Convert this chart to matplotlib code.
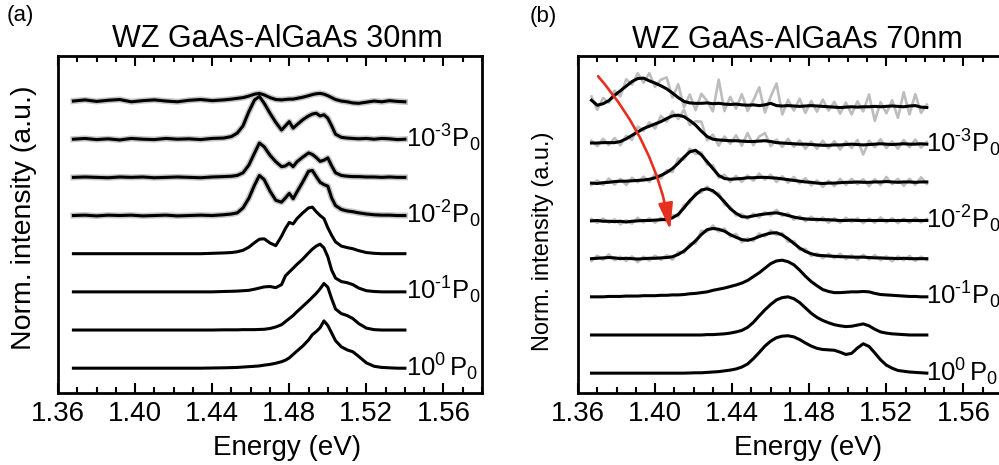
import numpy as np
import matplotlib
matplotlib.use('Agg')
import matplotlib.pyplot as plt
from matplotlib.patches import FancyArrowPatch
from matplotlib.ticker import MultipleLocator

plt.rcParams['font.family'] = ['Liberation Sans', 'DejaVu Sans']
plt.rcParams['mathtext.fontset'] = 'custom'
plt.rcParams['mathtext.rm'] = 'Liberation Sans'
plt.rcParams['mathtext.it'] = 'Liberation Sans:italic'
plt.rcParams['mathtext.bf'] = 'Liberation Sans:bold'

# ---------------- data: panel (a), 30 nm ----------------
energy_a = [1.368, 1.374, 1.380, 1.386, 1.392, 1.398, 1.404, 1.410, 1.416, 1.422,
            1.428, 1.434, 1.440, 1.446,
            1.450, 1.453, 1.456, 1.459, 1.462, 1.4645, 1.467, 1.470, 1.473, 1.476,
            1.478, 1.480, 1.482, 1.484, 1.487, 1.490, 1.492, 1.494, 1.496, 1.498,
            1.500, 1.502, 1.504, 1.507, 1.510, 1.513, 1.516, 1.520,
            1.524, 1.528, 1.532, 1.536, 1.540]

# spectra from top (lowest power) to bottom (highest power)
a_1 = [0.0, 0.03, -0.01, 0.02, 0.04, -0.02, 0.01, 0.03, 0.0, -0.02, 0.02, 0.04, 0.01, 0.03,
       0.05, 0.07, 0.09, 0.13, 0.18, 0.20, 0.16, 0.09, 0.04, 0.03,
       0.04, 0.05, 0.05, 0.07, 0.10, 0.14, 0.17, 0.19, 0.20, 0.18,
       0.14, 0.09, 0.04, 0.0, -0.02, -0.05, -0.06, -0.03,
       0.0, -0.02, 0.01, -0.01, -0.02]
a_2 = [0.0, 0.02, -0.01, 0.01, -0.02, 0.02, 0.0, -0.01, 0.02, 0.0, 0.01, -0.01, 0.02, 0.03,
       0.07, 0.16, 0.35, 0.72, 1.03, 1.12, 0.94, 0.68, 0.44, 0.24,
       0.35, 0.46, 0.29, 0.38, 0.51, 0.61, 0.66, 0.68, 0.61, 0.64,
       0.55, 0.35, 0.13, 0.05, 0.03, 0.02, 0.01, 0.02,
       0.0, 0.02, 0.01, -0.01, 0.0]
a_3 = [0.0, 0.01, 0.0, -0.01, 0.01, 0.0, 0.01, -0.01, 0.0, 0.01, 0.0, -0.01, 0.01, 0.02,
       0.03, 0.05, 0.12, 0.32, 0.64, 0.90, 0.80, 0.58, 0.41, 0.28,
       0.30, 0.37, 0.28, 0.41, 0.53, 0.64, 0.60, 0.52, 0.42, 0.45,
       0.51, 0.30, 0.12, 0.05, 0.03, 0.02, 0.02, 0.01,
       0.01, 0.0, 0.01, 0.0, 0.0]
a_4 = [0.0, 0.01, -0.01, 0.01, 0.0, 0.01, -0.01, 0.0, 0.01, -0.01, 0.0, 0.01, 0.0, 0.02,
       0.04, 0.07, 0.20, 0.45, 0.80, 1.05, 0.94, 0.64, 0.40, 0.35,
       0.46, 0.58, 0.44, 0.62, 0.88, 1.16, 1.18, 1.02, 0.87, 0.81,
       0.77, 0.46, 0.26, 0.16, 0.12, 0.10, 0.07, 0.04,
       0.02, 0.01, 0.01, 0.0, 0.0]
a_5 = [0.0, 0.0, 0.0, 0.0, 0.0, 0.0, 0.0, 0.0, 0.0, 0.0, 0.0, 0.0, 0.01, 0.02,
       0.03, 0.05, 0.09, 0.17, 0.29, 0.38, 0.39, 0.28, 0.21, 0.46,
       0.66, 0.82, 0.78, 0.92, 1.07, 1.20, 1.22, 1.10, 1.00, 0.92,
       0.68, 0.48, 0.31, 0.20, 0.16, 0.13, 0.08, 0.03,
       0.01, 0.0, 0.0, 0.0, 0.0]
a_6 = [0.0, 0.0, 0.0, 0.0, 0.0, 0.0, 0.0, 0.0, 0.0, 0.0, 0.0, 0.0, 0.0, 0.01,
       0.015, 0.02, 0.03, 0.04, 0.07, 0.10, 0.13, 0.14, 0.11, 0.19,
       0.42, 0.52, 0.62, 0.72, 0.86, 1.02, 1.12, 1.20, 1.25, 1.15,
       0.92, 0.57, 0.36, 0.27, 0.24, 0.19, 0.10, 0.03,
       0.01, 0.0, 0.0, 0.0, 0.0]
a_7 = [0.0, 0.0, 0.0, 0.0, 0.0, 0.0, 0.0, 0.0, 0.0, 0.0, 0.0, 0.0, 0.0, 0.005,
       0.005, 0.005, 0.01, 0.01, 0.01, 0.015, 0.02, 0.04, 0.08, 0.14,
       0.22, 0.30, 0.38, 0.48, 0.62, 0.76, 0.86, 0.96, 1.08, 1.22,
       1.12, 0.82, 0.55, 0.43, 0.38, 0.30, 0.17, 0.05,
       0.01, 0.0, 0.0, 0.0, 0.0]
a_8 = [0.0, 0.0, 0.0, 0.0, 0.0, 0.0, 0.0, 0.0, 0.0, 0.0, 0.0, 0.0, 0.005, 0.01,
       0.015, 0.02, 0.03, 0.04, 0.05, 0.06, 0.08, 0.10, 0.13, 0.17,
       0.21, 0.27, 0.36, 0.45, 0.58, 0.74, 0.88, 0.96, 1.06, 1.24,
       1.12, 0.92, 0.72, 0.56, 0.48, 0.43, 0.31, 0.14,
       0.05, 0.02, 0.01, 0.0, 0.0]

# ---------------- data: panel (b), 70 nm ----------------
energy_b = [1.367, 1.370, 1.373, 1.376, 1.379, 1.382, 1.385, 1.388, 1.391, 1.394,
            1.397, 1.400, 1.403, 1.406, 1.409, 1.412, 1.415, 1.418, 1.421, 1.424,
            1.427, 1.430, 1.433, 1.436, 1.439, 1.442, 1.445, 1.448, 1.451, 1.454,
            1.457, 1.460, 1.463, 1.466, 1.469, 1.472, 1.475, 1.478, 1.481, 1.484,
            1.487, 1.490, 1.493, 1.496, 1.499, 1.502, 1.505, 1.508, 1.511, 1.514,
            1.517, 1.520, 1.523, 1.526, 1.529, 1.532, 1.535, 1.538, 1.541]

b_1 = [0.15, 0.02, 0.06, 0.14, 0.28, 0.40, 0.52, 0.64, 0.72, 0.73,
       0.66, 0.60, 0.53, 0.45, 0.34, 0.22, 0.12, 0.08, 0.07, 0.07,
       0.08, 0.06, 0.07, 0.05, 0.04, 0.05, 0.03, 0.02, 0.03, 0.01,
       0.03, 0.07, 0.01, 0.0, 0.01, 0.0, -0.01, 0.0, 0.01, 0.0,
       -0.01, -0.02, -0.03, -0.04, -0.03, -0.02, -0.03, -0.02, -0.02, -0.01,
       -0.02, -0.01, 0.0, -0.01, -0.02, 0.0, 0.01, -0.03, -0.04]
b_2 = [0.03, 0.03, 0.04, 0.04, 0.04, 0.07, 0.14, 0.23, 0.32, 0.41,
       0.47, 0.53, 0.59, 0.67, 0.74, 0.76, 0.72, 0.62, 0.50, 0.34,
       0.20, 0.13, 0.11, 0.10, 0.09, 0.09, 0.08, 0.07, 0.07, 0.08,
       0.09, 0.07, 0.04, 0.03, 0.02, 0.01, 0.0, 0.0, -0.01, -0.02,
       -0.03, -0.03, -0.02, -0.02, -0.01, 0.0, -0.01, -0.02, -0.01, 0.0,
       0.01, 0.0, -0.01, 0.0, 0.01, 0.0, 0.0, 0.01, 0.0]
b_3 = [-0.02, -0.03, -0.01, 0.0, 0.02, 0.03, 0.03, 0.04, 0.05, 0.06,
       0.08, 0.12, 0.18, 0.26, 0.36, 0.50, 0.66, 0.80, 0.84, 0.72,
       0.54, 0.36, 0.18, 0.10, 0.08, 0.09, 0.10, 0.12, 0.12, 0.13,
       0.13, 0.12, 0.11, 0.09, 0.07, 0.05, 0.03, 0.01, 0.0, -0.02,
       -0.03, -0.02, -0.02, -0.01, 0.0, 0.0, 0.01, 0.0, 0.0, 0.01,
       0.01, 0.02, 0.01, 0.0, 0.01, 0.01, 0.0, 0.01, 0.01]
b_4 = [-0.01, 0.0, -0.02, -0.02, -0.03, -0.02, -0.04, -0.02, -0.01, 0.0,
       0.0, 0.01, 0.02, 0.03, 0.07, 0.16, 0.33, 0.52, 0.67, 0.80,
       0.83, 0.78, 0.65, 0.49, 0.31, 0.19, 0.10, 0.09, 0.12, 0.15,
       0.17, 0.19, 0.20, 0.17, 0.13, 0.09, 0.06, 0.04, 0.03, 0.03,
       0.02, 0.02, 0.01, 0.0, 0.0, 0.01, 0.0, 0.0, 0.0, 0.0,
       0.0, 0.0, 0.0, 0.0, 0.0, 0.0, 0.0, 0.0, 0.0]
b_5 = [0.0, 0.01, 0.02, 0.03, 0.02, 0.0, 0.01, 0.0, -0.01, 0.0,
       0.01, 0.01, 0.02, 0.03, 0.05, 0.11, 0.20, 0.33, 0.47, 0.63,
       0.76, 0.79, 0.77, 0.72, 0.63, 0.56, 0.50, 0.48, 0.52, 0.58,
       0.63, 0.67, 0.68, 0.62, 0.52, 0.40, 0.28, 0.19, 0.13, 0.09,
       0.08, 0.07, 0.06, 0.05, 0.05, 0.04, 0.04, 0.04, 0.03, 0.02,
       0.02, 0.01, 0.01, 0.0, 0.01, 0.0, 0.0, 0.0, 0.0]
b_6 = [0.0, 0.0, 0.0, 0.01, 0.01, 0.01, 0.02, 0.02, 0.02, 0.03,
       0.03, 0.03, 0.04, 0.04, 0.05, 0.05, 0.06, 0.08, 0.09, 0.11,
       0.13, 0.17, 0.20, 0.23, 0.27, 0.31, 0.36, 0.43, 0.53, 0.63,
       0.75, 0.87, 0.94, 0.96, 0.92, 0.84, 0.70, 0.54, 0.40, 0.29,
       0.19, 0.14, 0.11, 0.11, 0.12, 0.13, 0.13, 0.14, 0.13, 0.09,
       0.06, 0.05, 0.04, 0.03, 0.02, 0.01, 0.01, 0.0, 0.0]
b_7 = [0.0, 0.0, 0.0, 0.0, 0.0, 0.0, 0.0, 0.0, 0.0, 0.0,
       0.0, 0.0, 0.0, 0.0, 0.0, 0.0, 0.0, 0.0, 0.0, 0.0,
       0.01, 0.01, 0.02, 0.03, 0.05, 0.08, 0.12, 0.20, 0.33, 0.50,
       0.66, 0.80, 0.92, 0.98, 1.00, 0.95, 0.85, 0.71, 0.57, 0.46,
       0.38, 0.32, 0.27, 0.24, 0.22, 0.23, 0.26, 0.29, 0.24, 0.15,
       0.08, 0.05, 0.03, 0.02, 0.01, 0.0, 0.0, 0.0, 0.0]
b_8 = [0.0, 0.0, 0.0, 0.0, 0.0, 0.0, 0.0, 0.0, 0.0, 0.0,
       0.0, 0.0, 0.0, 0.0, 0.0, 0.0, 0.0, 0.005, 0.01, 0.01,
       0.02, 0.03, 0.04, 0.06, 0.08, 0.11, 0.16, 0.24, 0.38, 0.54,
       0.71, 0.84, 0.93, 0.97, 0.98, 0.95, 0.88, 0.79, 0.71, 0.65,
       0.62, 0.61, 0.60, 0.55, 0.49, 0.52, 0.66, 0.77, 0.70, 0.53,
       0.35, 0.21, 0.13, 0.07, 0.05, 0.03, 0.02, 0.01, 0.0]

# raw-minus-smoothed residuals (grey raw spectra) for the noisy panel (b) spectra
b_noise_1 = [0.10, -0.12, 0.15, -0.05, 0.12, -0.15, 0.18, -0.08, 0.14, -0.12,
             0.20, -0.10, 0.16, 0.30, -0.12, 0.35, -0.15, 0.22, -0.18, 0.25,
             0.05, -0.20, 0.62, -0.18, 0.20, -0.12, 0.28, -0.15, 0.12, 0.48,
             -0.20, 0.18, 0.58, -0.22, 0.15, -0.12, 0.20, -0.18, 0.12, -0.15,
             0.18, -0.10, 0.14, -0.16, 0.12, -0.20, 0.15, -0.12, 0.32, -0.38,
             0.12, -0.18, 0.15, -0.30, 0.38, -0.22, 0.30, -0.15, 0.08]
b_noise_2 = [0.06, -0.08, 0.10, -0.06, 0.12, -0.10, 0.08, -0.12, 0.14, -0.06,
             0.10, -0.12, 0.15, -0.08, 0.12, -0.10, 0.18, -0.12, 0.10, 0.25,
             -0.10, 0.12, -0.15, 0.10, -0.08, 0.14, -0.12, 0.22, -0.10, 0.12,
             0.20, -0.12, 0.08, -0.10, 0.12, -0.08, 0.10, -0.12, 0.08, -0.10,
             0.12, -0.08, 0.10, -0.12, 0.08, -0.10, 0.12, -0.25, 0.10, -0.08,
             0.12, -0.10, 0.08, -0.12, 0.10, -0.08, 0.12, -0.10, 0.06]
b_noise_3 = [-0.05, 0.08, -0.06, 0.10, -0.08, 0.06, -0.10, 0.08, -0.05, 0.09,
             -0.07, 0.10, -0.08, 0.06, -0.09, 0.12, -0.06, 0.08, -0.10, 0.07,
             -0.08, 0.09, -0.06, 0.10, -0.07, 0.08, -0.09, 0.06, -0.08, 0.10,
             -0.06, 0.08, -0.10, 0.07, -0.08, 0.09, -0.06, 0.10, -0.08, 0.07,
             -0.09, 0.06, -0.08, 0.10, -0.07, 0.09, -0.06, 0.08, -0.10, 0.07,
             -0.08, 0.12, -0.06, 0.09, -0.10, 0.08, -0.07, 0.12, -0.05]
b_noise_4 = [0.05, -0.06, 0.07, -0.04, 0.06, -0.08, 0.05, -0.06, 0.08, -0.05,
             0.06, -0.07, 0.05, -0.06, 0.07, -0.05, 0.08, -0.06, 0.05, -0.07,
             0.06, -0.05, 0.07, -0.08, 0.05, -0.06, 0.07, -0.05, 0.06, -0.07,
             0.05, -0.06, 0.08, -0.05, 0.06, -0.07, 0.05, -0.06, 0.07, -0.05,
             0.06, -0.08, 0.05, -0.06, 0.07, -0.05, 0.06, -0.07, 0.05, -0.06,
             0.08, -0.05, 0.06, -0.07, 0.05, -0.06, 0.07, -0.05, 0.04]
b_noise_5 = [-0.06, 0.07, -0.05, 0.08, -0.06, 0.05, -0.07, 0.06, -0.08, 0.05,
             -0.06, 0.07, -0.05, 0.06, -0.08, 0.07, -0.05, 0.06, -0.07, 0.10,
             -0.05, 0.08, -0.06, 0.07, -0.05, 0.09, -0.07, 0.05, -0.06, 0.08,
             -0.05, 0.07, -0.06, 0.05, -0.08, 0.06, -0.05, 0.07, -0.06, 0.05,
             -0.07, 0.06, -0.05, 0.08, -0.06, 0.05, -0.07, 0.06, -0.05, 0.07,
             -0.06, 0.05, -0.08, 0.06, -0.05, 0.07, -0.06, 0.05, -0.04]

x_ticks = [1.36, 1.40, 1.44, 1.48, 1.52, 1.56]
x_tick_labels = ['1.36', '1.40', '1.44', '1.48', '1.52', '1.56']
power_labels = ['$\\mathregular{10^{\u20103}P_0}$', '$\\mathregular{10^{\u20102}P_0}$',
                '$\\mathregular{10^{\u20101}P_0}$', '$\\mathregular{10^{0}\\,P_0}$']
titles = ['WZ GaAs-AlGaAs 30nm', 'WZ GaAs-AlGaAs 70nm']
panel_tags = ['(a)', '(b)']

curves_a = [a_1, a_2, a_3, a_4, a_5, a_6, a_7, a_8]
curves_b = [b_1, b_2, b_3, b_4, b_5, b_6, b_7, b_8]
noise_b = [b_noise_1, b_noise_2, b_noise_3, b_noise_4, b_noise_5]

# ---------------- figure ----------------
W, H = 999, 465
fig = plt.figure(figsize=(W / 100, H / 100), dpi=100)

def px_rect(l, t, w, h):
    return [l / W, 1 - (t + h) / H, w / W, h / H]

ax_a = fig.add_axes(px_rect(58, 56, 424, 337))
ax_b = fig.add_axes(px_rect(578, 56, 424, 337))

BLACK_LW = 2.2
for ax in (ax_a, ax_b):
    ax.set_xlim(1.36, 1.58)
    ax.set_xticks(x_ticks)
    ax.set_xticklabels(x_tick_labels, fontsize=20)
    ax.xaxis.set_minor_locator(MultipleLocator(0.01))
    ax.set_yticks([])
    ax.tick_params(axis='x', which='both', direction='in', top=True, bottom=True,
                   width=1.5, pad=6)
    ax.tick_params(axis='x', which='major', length=7)
    ax.tick_params(axis='x', which='minor', length=4.5)
    for sp in ax.spines.values():
        sp.set_linewidth(2.0)

ax_a.set_ylim(-0.65, 8.18)
ax_b.set_ylim(-0.52, 8.31)

# panel (a)
ea = np.array(energy_a)
for i, c in enumerate(curves_a):
    off = 7 - i
    y = np.array(c) + off
    if i < 4:
        ax_a.plot(ea, y, color='#c6c6c6', lw=4.4, solid_joinstyle='round', zorder=2)
    ax_a.plot(ea, y, color='black', lw=BLACK_LW, solid_joinstyle='round', zorder=3)

# panel (b)
eb = np.array(energy_b)
for i, c in enumerate(curves_b):
    off = 7 - i
    y = np.array(c) + off
    if i < len(noise_b):
        ax_b.plot(eb, y + np.array(noise_b[i]), color='#bdbdbd', lw=1.9,
                  solid_joinstyle='round', zorder=2)
    ax_b.plot(eb, y, color='black', lw=BLACK_LW, solid_joinstyle='round', zorder=3)

# power labels next to the curve ends
for ax in (ax_a, ax_b):
    for k, lab in enumerate(power_labels):
        off = 6 - 2 * k
        ax.text(1.5404, off - 0.21, lab, fontsize=18.5, ha='left', va='baseline',
                clip_on=False, zorder=4)

# red arrow in (b)
arrow = FancyArrowPatch(posA=(1.3704, 7.78), posB=(1.4078, 3.75),
                        connectionstyle='arc3,rad=-0.14',
                        arrowstyle='-|>,head_length=0.8,head_width=0.22',
                        mutation_scale=20, color='#e5301f', lw=1.9,
                        shrinkA=0, shrinkB=0, zorder=5)
ax_b.add_patch(arrow)

def ftext(x, y, s, **kw):
    fig.text(x / W, 1 - y / H, s, **kw)

# titles, panel tags, axis labels
ftext(277, 47, titles[0], fontsize=22, ha='center', va='baseline')
ftext(797, 48, titles[1], fontsize=22, ha='center', va='baseline')
ftext(7, 21, panel_tags[0], fontsize=16, ha='left', va='baseline')
ftext(530, 22, panel_tags[1], fontsize=16, ha='left', va='baseline')
ftext(287, 455, 'Energy (eV)', fontsize=20, ha='center', va='baseline')
ftext(808, 455, 'Energy (eV)', fontsize=20, ha='center', va='baseline')
ftext(24, 218, 'Norm. intensity (a.u.)', fontsize=20.5, rotation=90,
      ha='center', va='center')
ftext(543, 241, 'Norm. intensity (a.u.)', fontsize=17, rotation=90,
      ha='center', va='center')

fig.savefig('out.png', dpi=100)
